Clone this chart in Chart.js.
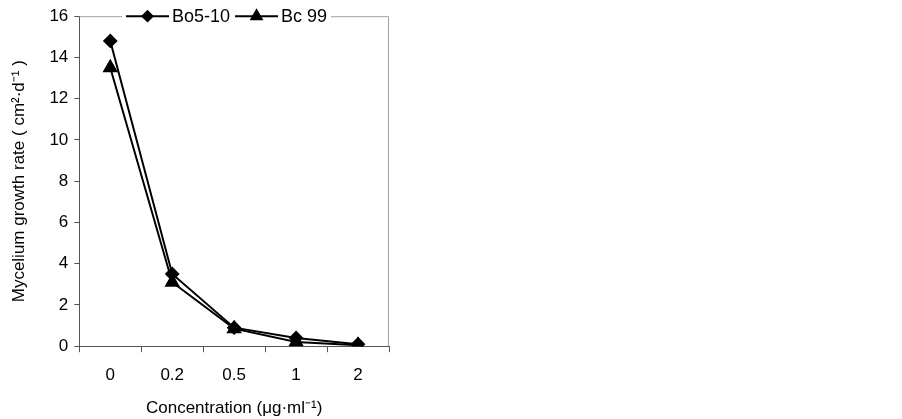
<!DOCTYPE html>
<html><head><meta charset="utf-8">
<script src="https://cdn.jsdelivr.net/npm/chart.js@4/dist/chart.umd.min.js"></script>
<style>html,body{margin:0;padding:0;background:#fff;}#wrap{width:902px;height:419px;position:relative;}</style>
</head><body><div id="wrap"><canvas id="c"></canvas></div>
<script>
const categories = ['0', '0.2', '0.5', '1', '2'];
const bo510 = [14.8, 3.5, 0.9, 0.4, 0.1];
const bc99 = [13.5, 3.1, 0.85, 0.2, 0.05];
const seriesNames = ['Bo5-10', 'Bc 99'];
const yTitle = 'Mycelium growth rate ( cm\u00B2\u00B7d\u207B\u00B9 )';
const xTitle = 'Concentration (\u03BCg\u00B7ml\u207B\u00B9)';
const FONT = '"Liberation Sans", Arial, sans-serif';

const framePlugin = {
  id: 'frame',
  beforeDatasetsDraw(chart) {
    const {ctx, chartArea: a} = chart;
    ctx.save();
    ctx.strokeStyle = '#a0a0a0';
    ctx.lineWidth = 1;
    ctx.beginPath();
    ctx.moveTo(a.left, a.top + 0.5);
    ctx.lineTo(a.right - 0.5, a.top + 0.5);
    ctx.lineTo(a.right - 0.5, a.bottom);
    ctx.stroke();
    ctx.restore();
  },
  afterDraw(chart) {
    const {ctx, chartArea: a} = chart;
    ctx.save();
    ctx.font = '18px ' + FONT;
    const items = chart.data.datasets.map(d => ({label: d.label, style: d.pointStyle, r: d.pointRadius - 1}));
    const lineLen = 43, gap = 3, spacing = 5;
    let widths = items.map(it => lineLen + gap + ctx.measureText(it.label).width);
    let total = widths.reduce((s, w) => s + w, 0) + spacing * (items.length - 1) + 8;
    let x = 122;
    const y = a.top;
    ctx.fillStyle = '#fff';
    ctx.fillRect(x, y - 10, total, 20);
    x += 4;
    items.forEach((it, i) => {
      ctx.strokeStyle = '#000';
      ctx.lineWidth = 2;
      ctx.beginPath();
      ctx.moveTo(x, y); ctx.lineTo(x + lineLen, y); ctx.stroke();
      ctx.fillStyle = '#000';
      Chart.helpers.drawPoint(ctx, {pointStyle: it.style, radius: it.r, rotation: 0, borderWidth: 1}, x + lineLen / 2, y);
      ctx.fillStyle = '#000';
      ctx.textBaseline = 'middle';
      ctx.textAlign = 'left';
      ctx.fillText(it.label, x + lineLen + gap, y + 1);
      x += widths[i] + spacing;
    });
    ctx.restore();
  }
};

new Chart(document.getElementById('c'), {
  type: 'line',
  data: {
    labels: categories,
    datasets: [
      {label: seriesNames[0], data: bo510, borderColor: '#000', backgroundColor: '#000', borderWidth: 2,
       pointStyle: 'rectRot', pointRadius: 6, pointBorderColor: '#000', pointBackgroundColor: '#000', tension: 0},
      {label: seriesNames[1], data: bc99, borderColor: '#000', backgroundColor: '#000', borderWidth: 2,
       pointStyle: 'triangle', pointRadius: 7, pointBorderColor: '#000', pointBackgroundColor: '#000', tension: 0}
    ]
  },
  options: {
    responsive: true, maintainAspectRatio: false, animation: false,
    layout: {padding: {left: 9, right: 513, top: 7, bottom: 0}},
    plugins: {legend: {display: false}, tooltip: {enabled: false}},
    scales: {
      x: {
        offset: true,
        grid: {offset: true, drawOnChartArea: false, drawTicks: true, tickLength: 6, color: '#555', lineWidth: 1},
        border: {color: '#555', width: 1},
        ticks: {color: '#000', font: {family: FONT, size: 17}, padding: 13},
        title: {display: true, text: xTitle, color: '#000', font: {family: FONT, size: 17}, padding: {top: 0, bottom: 0}}
      },
      y: {
        min: 0, max: 16,
        ticks: {stepSize: 2, color: '#000', font: {family: FONT, size: 17}, padding: 6},
        grid: {drawOnChartArea: false, drawTicks: true, tickLength: 5, color: '#555'},
        border: {color: '#555', width: 1},
        title: {display: true, text: yTitle, color: '#000', font: {family: FONT, size: 17}, padding: {top: 0, bottom: 14}}
      }
    }
  },
  plugins: [framePlugin]
});
</script></body></html>
